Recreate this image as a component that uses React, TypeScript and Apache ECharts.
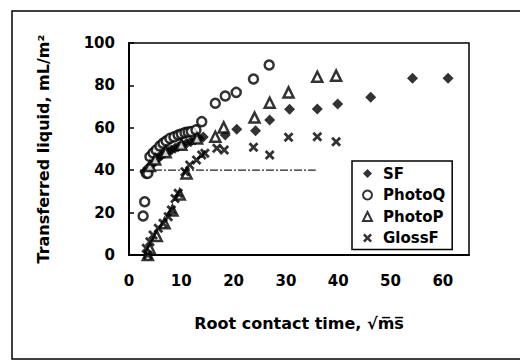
import React, { useEffect, useRef } from "react";
import * as echarts from "echarts";

const xTicks = [0, 10, 20, 30, 40, 50, 60];
const yTicks = [0, 20, 40, 60, 80, 100];

const sfX = [3.0, 3.6, 4.3, 4.9, 5.6, 6.1, 6.8, 7.5, 8.1, 8.8, 9.4, 10.2, 11.0, 11.8, 12.6, 13.4, 14.2, 18.4, 20.6, 24.2, 26.9, 30.7, 36.0, 39.9, 46.2, 54.2, 61.0];
const sfY = [39.3, 41.0, 42.5, 44.1, 45.6, 46.9, 48.0, 48.8, 49.5, 50.3, 51.1, 51.9, 52.7, 53.4, 54.2, 55.0, 55.7, 56.6, 59.3, 58.6, 63.7, 68.7, 68.9, 71.2, 74.4, 83.4, 83.4];

const pqX = [2.7, 3.0, 3.3, 3.6, 4.0, 4.6, 5.2, 5.9, 6.5, 7.1, 7.8, 8.6, 9.4, 10.0, 10.7, 11.3, 11.9, 12.8, 13.9, 16.5, 18.4, 20.5, 23.8, 26.8];
const pqY = [18.4, 25.1, 38.5, 38.5, 46.4, 48.1, 49.5, 51.4, 52.7, 53.8, 55.0, 55.7, 56.6, 57.1, 57.7, 58.0, 58.2, 59.0, 62.9, 71.6, 75.0, 76.7, 83.0, 89.6];

const ppX = [3.6, 4.0, 5.3, 6.8, 8.3, 9.7, 4.0, 5.0, 7.0, 10.0, 11.0, 13.0, 16.5, 18.1, 24.0, 26.9, 30.5, 36.0, 39.6];
const ppY = [0, 3.0, 9.0, 15.0, 21.0, 28.5, 42.0, 45.0, 48.5, 52.0, 38.5, 55.0, 55.8, 60.2, 64.8, 71.8, 76.7, 84.1, 84.6];

const gfX = [3.3, 3.6, 4.0, 4.6, 5.6, 6.5, 7.5, 8.1, 8.8, 9.4, 10.7, 11.6, 12.9, 13.9, 14.5, 16.8, 18.2, 23.8, 26.9, 30.5, 36.0, 39.6];
const gfY = [3.2, 0, 6.3, 9.4, 12.6, 15.0, 18.1, 21.2, 26.7, 29.1, 39.3, 42.5, 44.8, 47.2, 48.0, 50.3, 49.5, 50.8, 47.2, 55.5, 55.8, 53.4];

const refLineX = [2.1, 35.7];
const refLineY = [40, 40];

const seriesNames = ["SF", "PhotoQ", "PhotoP", "GlossF"];

const zip = (xs: number[], ys: number[]) => xs.map((x, i) => [x, ys[i]]);

const crossPath =
  "path://M0,2L2,0L5,3L8,0L10,2L7,5L10,8L8,10L5,7L2,10L0,8L3,5Z";

const FONT = "DejaVu Sans";

export default function App() {
  const ref = useRef<HTMLDivElement>(null);
  useEffect(() => {
    if (!ref.current) return;
    const chart = echarts.init(ref.current, undefined, { renderer: "svg" });
    chart.setOption({
      animation: false,
      backgroundColor: "#fff",
      grid: {
        left: 129,
        right: 51,
        top: 43,
        bottom: 106,
        show: true,
        borderColor: "#000",
        borderWidth: 1.5,
        backgroundColor: "transparent",
      },
      graphic: [
        {
          type: "rect",
          silent: true,
          shape: { x: 12, y: 11, width: 530, height: 348 },
          style: { fill: "none", stroke: "#000", lineWidth: 1.5 },
        },
      ],
      legend: {
        data: [
          { name: "SF", icon: "diamond" },
          { name: "PhotoQ", icon: "circle" },
          { name: "PhotoP", icon: "triangle" },
          { name: "GlossF", icon: crossPath },
        ],
        orient: "vertical",
        left: 352,
        top: 161,
        padding: [5, 7, 4, 10],
        itemWidth: 9,
        itemHeight: 9,
        itemGap: 6.5,
        backgroundColor: "#fff",
        borderColor: "#000",
        borderWidth: 1.5,
        textStyle: {
          fontFamily: FONT,
          fontWeight: "bold",
          fontSize: 15,
          color: "#000",
          padding: [0, 0, 0, 6],
        },
      },
      xAxis: {
        type: "value",
        min: xTicks[0],
        max: 65,
        interval: 10,
        name: "Root contact time, \u221Am\u0305s\u0305",
        nameLocation: "middle",
        nameGap: 60,
        nameTextStyle: { fontFamily: FONT, fontWeight: "bold", fontSize: 16, color: "#000" },
        axisLine: { lineStyle: { color: "#000", width: 2 } },
        axisTick: { show: false },
        splitLine: { show: false },
        axisLabel: {
          margin: 18,
          fontFamily: FONT,
          fontWeight: "bold",
          fontSize: 15,
          color: "#000",
          showMaxLabel: false,
          formatter: (v: number) => (xTicks.includes(v) ? String(v) : ""),
        },
      },
      yAxis: {
        type: "value",
        min: yTicks[0],
        max: yTicks[yTicks.length - 1],
        interval: 20,
        name: "Transferred liquid, mL/m\u00B2",
        nameLocation: "middle",
        nameGap: 78,
        nameTextStyle: { fontFamily: FONT, fontWeight: "bold", fontSize: 16, color: "#000" },
        axisLine: { lineStyle: { color: "#000", width: 2 } },
        axisTick: { inside: true, length: 5, lineStyle: { color: "#000", width: 1.5 } },
        splitLine: { show: false },
        axisLabel: {
          margin: 14,
          fontFamily: FONT,
          fontWeight: "bold",
          fontSize: 15,
          color: "#000",
        },
      },
      series: [
        {
          name: "refline",
          type: "line",
          data: zip(refLineX, refLineY),
          symbol: "none",
          silent: true,
          lineStyle: { color: "#222", width: 1.3, type: [8, 2, 2, 2] },
          z: 1,
        },
        {
          name: "SF",
          type: "scatter",
          data: zip(sfX, sfY),
          symbol: "diamond",
          symbolSize: 11,
          itemStyle: { color: "#000" },
          z: 3,
        },
        {
          name: "PhotoQ",
          type: "scatter",
          data: zip(pqX, pqY),
          symbol: "circle",
          symbolSize: 9,
          itemStyle: { color: "#fff", borderColor: "#000", borderWidth: 2.5 },
          z: 4,
        },
        {
          name: "PhotoP",
          type: "scatter",
          data: zip(ppX, ppY),
          symbol: "triangle",
          symbolSize: 10,
          itemStyle: { color: "#fff", borderColor: "#000", borderWidth: 2.5 },
          z: 4,
        },
        {
          name: "GlossF",
          type: "scatter",
          data: zip(gfX, gfY),
          symbol: crossPath,
          symbolSize: 10,
          itemStyle: { color: "#000" },
          z: 5,
        },
      ],
    });
    return () => chart.dispose();
  }, []);
  return (
    <div
      ref={ref}
      style={{ position: "absolute", left: 0, top: 0, width: 520, height: 361 }}
    />
  );
}
